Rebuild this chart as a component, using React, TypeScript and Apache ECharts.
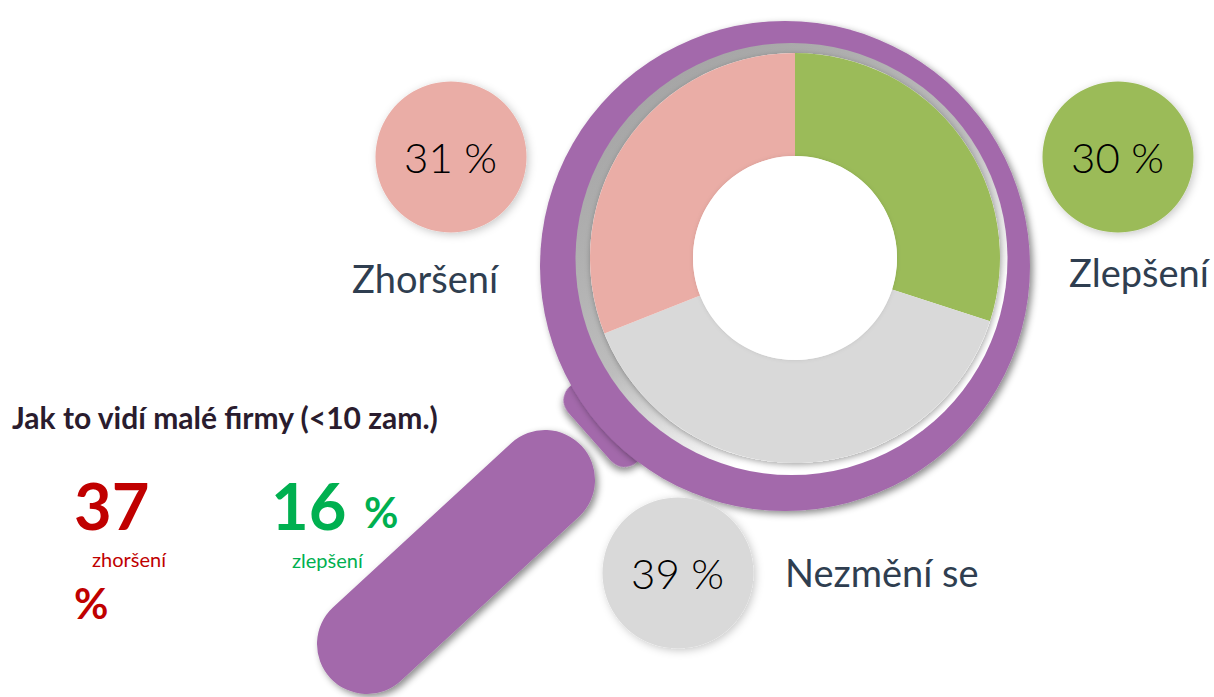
import React, { useEffect, useRef } from "react";
import * as echarts from "echarts";

const categories = ["Zlepšení", "Nezmění se", "Zhoršení"];
const values = [30, 39, 31];
const colors = ["#9BBB59", "#D9D9D9", "#EAADA6"];
const smallFirmsTitle = "Jak to vidí malé firmy (<10 zam.)";
const smallWorse = { value: "37", unit: "%", label: "zhoršení" };
const smallBetter = { value: "16", unit: "%", label: "zlepšení" };

const PURPLE = "#A369AB";
const SHADOW = "rgba(0,0,0,0.45)";
const FONT = "Lato, 'Open Sans', sans-serif";

const bubble = (cx: number, cy: number, fill: string, text: string) => [
  {
    type: "circle",
    z: 3,
    shape: { cx, cy, r: 75.5 },
    style: { fill, shadowBlur: 8, shadowColor: "rgba(0,0,0,0.22)", shadowOffsetX: 2, shadowOffsetY: 2 },
  },
  {
    type: "text",
    z: 4,
    x: cx - 0.5,
    y: cy,
    style: { text, fill: "#000000", font: `300 42px ${FONT}`, align: "center", verticalAlign: "middle" },
  },
];

const label = (x: number, y: number, text: string, font: string, fill: string, align = "left") => ({
  type: "text",
  z: 4,
  x,
  y,
  style: { text, fill, font, align, verticalAlign: "middle" },
});

export default function App() {
  const ref = useRef<HTMLDivElement>(null);
  useEffect(() => {
    const chart = echarts.init(ref.current!, undefined, { renderer: "svg" });
    chart.setOption({
      animation: false,
      backgroundColor: "#ffffff",
      series: [
        {
          type: "pie",
          z: 5,
          center: [795, 258],
          radius: [102, 205],
          startAngle: 90,
          clockwise: true,
          label: { show: false },
          labelLine: { show: false },
          emphasis: { disabled: true },
          data: categories.map((name, i) => ({ name, value: values[i], itemStyle: { color: colors[i] } })),
        },
      ],
      graphic: [
        {
          type: "line",
          z: 1,
          shape: { x1: 367, y1: 644, x2: 545, y2: 480 },
          style: { stroke: PURPLE, lineWidth: 100, lineCap: "round", shadowBlur: 7, shadowColor: SHADOW, shadowOffsetX: 3, shadowOffsetY: 3 },
        },
        {
          type: "rect",
          z: 1,
          x: 601,
          y: 359,
          rotation: -0.847,
          shape: { x: 0, y: 0, width: 101, height: 60, r: 18 },
          style: { fill: PURPLE, shadowBlur: 7, shadowColor: SHADOW, shadowOffsetX: 3, shadowOffsetY: 3 },
        },
        {
          type: "circle",
          z: 2,
          shape: { cx: 785, cy: 266, r: 245 },
          style: { fill: PURPLE, shadowBlur: 7, shadowColor: SHADOW, shadowOffsetX: 3, shadowOffsetY: 3 },
        },
        {
          type: "circle",
          z: 2,
          shape: { cx: 791.5, cy: 259, r: 216 },
          style: {
            fill: new echarts.graphic.LinearGradient(0.2, 0.1, 0.75, 0.9, [
              { offset: 0, color: "#A6A6A6" },
              { offset: 0.5, color: "#BDBDBD" },
              { offset: 0.85, color: "#FFFFFF" },
              { offset: 1, color: "#FFFFFF" },
            ]),
          },
        },
        {
          type: "circle",
          z: 3,
          shape: { cx: 795, cy: 258, r: 205 },
          style: { fill: "#ffffff", shadowBlur: 6, shadowColor: "rgba(0,0,0,0.35)", shadowOffsetX: 1, shadowOffsetY: 2 },
        },
        {
          type: "circle",
          z: 6,
          shape: { cx: 795, cy: 258, r: 102 },
          style: { fill: "#ffffff", shadowBlur: 4, shadowColor: "rgba(0,0,0,0.1)" },
        },
        ...bubble(451, 157, colors[2], `${values[2]} %`),
        ...bubble(1118, 157, colors[0], `${values[0]} %`),
        ...bubble(678, 573, colors[1], `${values[1]} %`),
        label(352, 278, categories[2], `38px ${FONT}`, "#2F3E50"),
        label(1069, 272, categories[0], `38px ${FONT}`, "#2F3E50"),
        label(785, 572, categories[1], `38px ${FONT}`, "#2F3E50"),
        label(12, 417, smallFirmsTitle, `bold 30px ${FONT}`, "#2A1C2E"),
        label(74, 505, smallWorse.value, `bold 65px ${FONT}`, "#C00000"),
        label(92, 559, smallWorse.label, `20px ${FONT}`, "#C00000"),
        label(74, 603, smallWorse.unit, `bold 42px ${FONT}`, "#C00000"),
        label(271, 505, smallBetter.value, `bold 65px ${FONT}`, "#00B050"),
        label(364, 512, smallBetter.unit, `bold 42px ${FONT}`, "#00B050"),
        label(292, 560, smallBetter.label, `20px ${FONT}`, "#00B050"),
      ],
    });
    return () => chart.dispose();
  }, []);
  return (
    <div style={{ position: "fixed", left: 0, top: 0, width: 1214, height: 697 }}>
      <div ref={ref} style={{ width: 1214, height: 697 }} />
    </div>
  );
}
